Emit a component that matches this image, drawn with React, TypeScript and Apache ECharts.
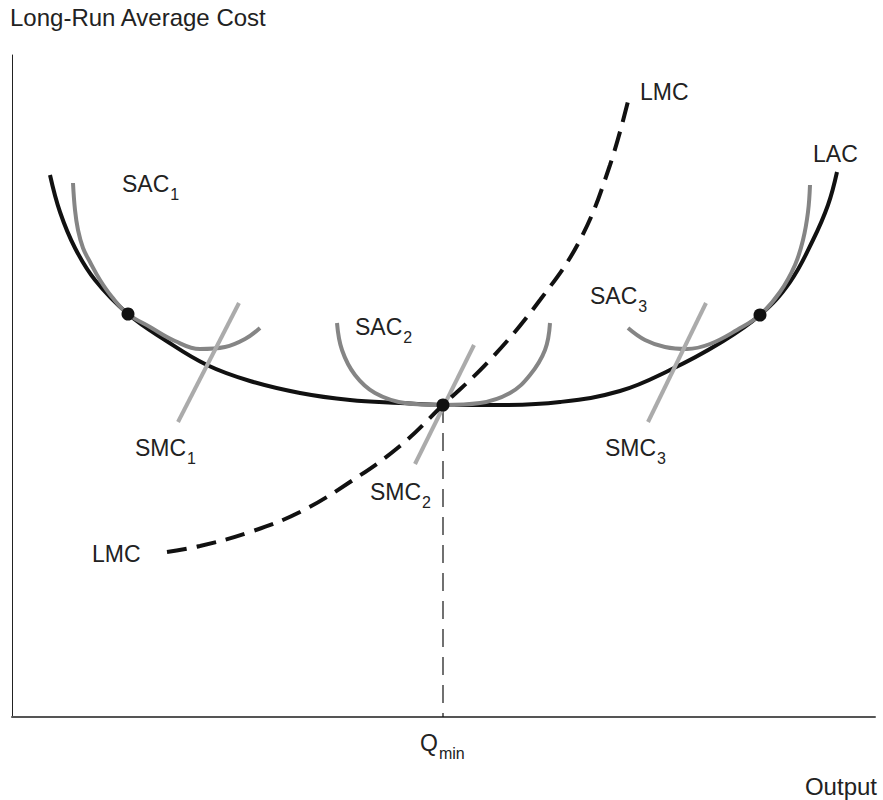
import React, { useEffect, useRef } from "react";
import * as echarts from "echarts";

// Units: Output on x (0..863), Cost on y (0..662)
const X_MAX = 863;
const Y_MAX = 662;

// Long-run average cost
const lacX = [38, 48, 63, 83, 116, 153, 195, 238, 288, 338, 388, 431, 488, 548, 608, 658, 708, 748, 778, 801, 816, 825];
const lacY = [542, 505, 469, 437, 403, 377, 352, 336, 324, 317, 314, 312, 312, 315, 326, 347, 374, 402, 435, 477, 512, 545];

// Short-run average costs
const sac1X = [61, 63, 66, 71, 78, 88, 100, 116, 138, 163, 188, 213, 233, 248];
const sac1Y = [534, 507, 487, 469, 455, 437, 420, 403, 390, 376, 368, 370, 378, 389];
const sac2X = [325, 330, 343, 363, 393, 431, 468, 498, 518, 533, 538];
const sac2Y = [394, 367, 342, 324, 314, 312, 314, 324, 342, 367, 394];
const sac3X = [616, 633, 653, 675, 698, 725, 748, 768, 783, 791, 796, 798];
const sac3Y = [389, 377, 370, 368, 373, 387, 402, 425, 452, 477, 505, 532];

// Short-run marginal costs (straight segments)
const smc1X = [166, 227];
const smc1Y = [295, 414];
const smc2X = [403, 462];
const smc2Y = [253, 372];
const smc3X = [636, 694];
const smc3Y = [295, 414];

// Long-run marginal cost
const lmcX = [155, 188, 238, 288, 338, 388, 431, 478, 528, 568, 598, 618];
const lmcY = [165, 171, 185, 205, 235, 271, 312, 357, 417, 477, 552, 624];

// Tangency points
const dotX = [116, 431, 748];
const dotY = [403, 312, 402];

// Qmin
const qMin = 431;
const qMinCost = 312;

const zip = (xs: number[], ys: number[]) => xs.map((x, i) => [x, ys[i]]);

const FONT = "'Liberation Sans', Arial, Helvetica, sans-serif";
const TXT = "#222";

function label(x: number, y: number, main: string, sub?: string, size = 23) {
  if (!sub) {
    return {
      type: "text",
      x,
      y,
      silent: true,
      style: {
        text: main,
        fontSize: size,
        fontFamily: FONT,
        fill: TXT,
        align: "left",
        verticalAlign: "middle",
      },
    };
  }
  return {
    type: "text",
    x,
    y,
    silent: true,
    style: {
      text: `{m|${main}}{s|${sub}}`,
      fontFamily: FONT,
      fill: TXT,
      align: "left",
      verticalAlign: "middle",
      rich: {
        m: { fontSize: size, fontFamily: FONT, fill: TXT, verticalAlign: "middle" },
        s: { fontSize: 16, fontFamily: FONT, fill: TXT, verticalAlign: "middle", padding: [20, 0, 0, 1] },
      },
    },
  };
}

export default function App() {
  const ref = useRef<HTMLDivElement>(null);
  useEffect(() => {
    const chart = echarts.init(ref.current!, null, { renderer: "svg" });
    const lineBase = { type: "line", symbol: "none", silent: true, smooth: 0.4 };
    chart.setOption({
      animation: false,
      backgroundColor: "#fff",
      grid: { left: 12, right: 8, top: 55, bottom: 83, containLabel: false },
      xAxis: {
        type: "value",
        min: 0,
        max: X_MAX,
        axisLine: { show: true, lineStyle: { color: "#555", width: 2 } },
        axisTick: { show: false },
        axisLabel: { show: false },
        splitLine: { show: false },
      },
      yAxis: {
        type: "value",
        min: 0,
        max: Y_MAX,
        axisLine: { show: true, lineStyle: { color: "#222", width: 1 } },
        axisTick: { show: false },
        axisLabel: { show: false },
        splitLine: { show: false },
      },
      series: [
        {
          type: "line",
          symbol: "none",
          silent: true,
          data: [[qMin, qMinCost], [qMin, 0]],
          lineStyle: { color: "#111", width: 1.2, type: [18, 10] },
        },
        { ...lineBase, data: zip(lacX, lacY), lineStyle: { color: "#111", width: 4 } },
        { ...lineBase, data: zip(sac1X, sac1Y), lineStyle: { color: "#858585", width: 4 } },
        { ...lineBase, data: zip(sac2X, sac2Y), lineStyle: { color: "#858585", width: 4 } },
        { ...lineBase, data: zip(sac3X, sac3Y), lineStyle: { color: "#858585", width: 4 } },
        { ...lineBase, smooth: false, data: zip(smc1X, smc1Y), lineStyle: { color: "#ababab", width: 4 } },
        { ...lineBase, smooth: false, data: zip(smc2X, smc2Y), lineStyle: { color: "#ababab", width: 4 } },
        { ...lineBase, smooth: false, data: zip(smc3X, smc3Y), lineStyle: { color: "#ababab", width: 4 } },
        { ...lineBase, data: zip(lmcX, lmcY), lineStyle: { color: "#111", width: 4, type: [20, 10], cap: "butt" } },
        {
          type: "scatter",
          silent: true,
          symbol: "circle",
          symbolSize: 13,
          z: 10,
          itemStyle: { color: "#111", opacity: 1, borderWidth: 0 },
          data: zip(dotX, dotY),
        },
      ],
      graphic: [
        label(10, 17, "Long-Run Average Cost", undefined, 24),
        {
          type: "text",
          x: 877,
          y: 786,
          silent: true,
          style: { text: "Output", fontSize: 24, fontFamily: FONT, fill: TXT, align: "right", verticalAlign: "middle" },
        },
        label(420, 743, "Q", "min"),
        label(122, 184, "SAC", "1"),
        label(135, 448, "SMC", "1"),
        label(355, 327, "SAC", "2"),
        label(370, 492, "SMC", "2"),
        label(590, 296, "SAC", "3"),
        label(605, 448, "SMC", "3"),
        label(813, 154, "LAC"),
        label(640, 92, "LMC"),
        label(92, 554, "LMC"),
      ],
    });
    return () => chart.dispose();
  }, []);
  return (
    <div
      ref={ref}
      style={{ position: "absolute", left: 0, top: 0, width: 883, height: 800, background: "#fff" }}
    />
  );
}
